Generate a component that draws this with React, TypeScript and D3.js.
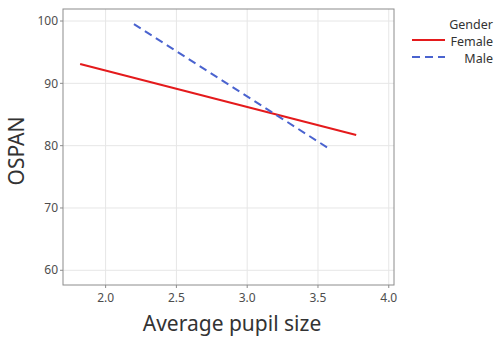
import { useMemo } from 'react';
import { scaleLinear, line } from 'd3';

// fitted lines: endpoints of each gender's regression line
const genders = ['Female', 'Male'];
const femaleX = [1.82, 3.77];
const femaleY = [93.1, 81.7];
const maleX = [2.2, 3.58];
const maleY = [99.5, 79.5];
const xTicks = [2.0, 2.5, 3.0, 3.5, 4.0];
const yTicks = [60, 70, 80, 90, 100];

const FONT = "'Noto Sans', 'Open Sans', sans-serif";

export default function App() {
  const width = 495;
  const height = 337;
  const panel = { left: 63, top: 9, right: 394, bottom: 285 };

  const x = useMemo(() => scaleLinear().domain([1.699, 4.037]).range([panel.left, panel.right]), []);
  const y = useMemo(() => scaleLinear().domain([57.64, 101.93]).range([panel.bottom, panel.top]), []);

  const path = line<[number, number]>()
    .x((d) => x(d[0]))
    .y((d) => y(d[1]));

  const series = [
    { name: genders[0], pts: femaleX.map((v, i) => [v, femaleY[i]] as [number, number]), color: '#e41a1c', dash: undefined },
    { name: genders[1], pts: maleX.map((v, i) => [v, maleY[i]] as [number, number]), color: '#4a63cf', dash: '8 5' },
  ];

  return (
    <svg width={width} height={height} style={{ position: 'absolute', left: 0, top: 0, background: '#fff' }} fontFamily={FONT}>
      {/* grid */}
      {xTicks.map((t) => (
        <line key={'gx' + t} x1={x(t)} x2={x(t)} y1={panel.top} y2={panel.bottom} stroke="#e6e6e6" strokeWidth={1} />
      ))}
      {yTicks.map((t) => (
        <line key={'gy' + t} x1={panel.left} x2={panel.right} y1={y(t)} y2={y(t)} stroke="#e6e6e6" strokeWidth={1} />
      ))}

      {/* lines */}
      {series.map((s) => (
        <path key={s.name} d={path(s.pts) || ''} fill="none" stroke={s.color} strokeWidth={2} strokeDasharray={s.dash} />
      ))}

      {/* panel border */}
      <rect x={panel.left} y={panel.top} width={panel.right - panel.left} height={panel.bottom - panel.top} fill="none" stroke="#8c8c8c" strokeWidth={1} />

      {/* x axis ticks */}
      {xTicks.map((t) => (
        <g key={'tx' + t}>
          <line x1={x(t)} x2={x(t)} y1={panel.bottom} y2={panel.bottom + 3} stroke="#8c8c8c" />
          <text x={x(t)} y={panel.bottom + 17} textAnchor="middle" fontSize={12} fill="#4d4d4d">
            {t.toFixed(1)}
          </text>
        </g>
      ))}
      {/* y axis ticks */}
      {yTicks.map((t) => (
        <g key={'ty' + t}>
          <line x1={panel.left - 3} x2={panel.left} y1={y(t)} y2={y(t)} stroke="#8c8c8c" />
          <text x={panel.left - 5} y={y(t)} dy="0.35em" textAnchor="end" fontSize={12} fill="#4d4d4d">
            {t}
          </text>
        </g>
      ))}

      {/* axis titles */}
      <text x={232} y={331} textAnchor="middle" fontSize={21} fill="#333">
        Average pupil size
      </text>
      <text transform={`translate(24,${(panel.top + panel.bottom) / 2 + 4}) rotate(-90)`} textAnchor="middle" fontSize={21} fill="#333">
        OSPAN
      </text>

      {/* legend */}
      <text x={493} y={25} dy="0.35em" textAnchor="end" fontSize={12.5} fill="#333">
        Gender
      </text>
      {series.map((s, i) => (
        <g key={'lg' + s.name}>
          <line x1={412} x2={445} y1={40 + i * 17} y2={40 + i * 17} stroke={s.color} strokeWidth={2} strokeDasharray={s.dash} />
          <text x={493} y={42 + i * 17} dy="0.35em" textAnchor="end" fontSize={12.5} fill="#333">
            {s.name}
          </text>
        </g>
      ))}
    </svg>
  );
}
